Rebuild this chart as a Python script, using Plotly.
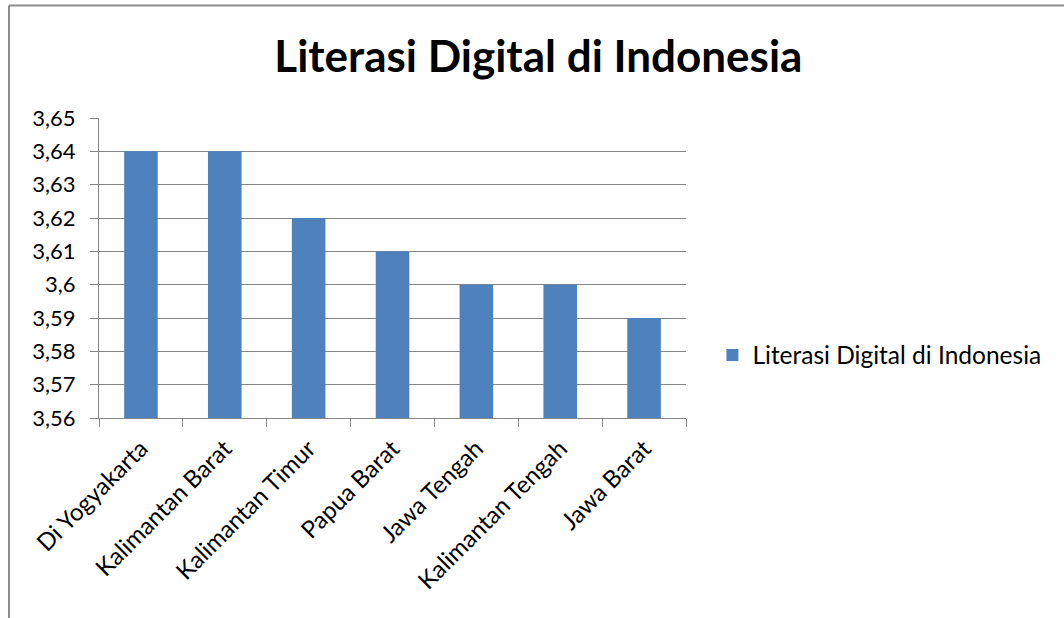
import plotly.graph_objects as go

categories = ["Di Yogyakarta", "Kalimantan Barat", "Kalimantan Timur", "Papua Barat",
              "Jawa Tengah", "Kalimantan Tengah", "Jawa Barat"]
values = [3.64, 3.64, 3.62, 3.61, 3.60, 3.60, 3.59]
series_name = "Literasi Digital di Indonesia"
y_tickvals = [3.56, 3.57, 3.58, 3.59, 3.60, 3.61, 3.62, 3.63, 3.64, 3.65]
y_ticktext = ["3,56", "3,57", "3,58", "3,59", "3,6", "3,61", "3,62", "3,63", "3,64", "3,65"]

FONT = "Lato"
GRAY = "#868686"

fig = go.Figure()
fig.add_trace(go.Bar(x=categories, y=values, name=series_name,
                     marker=dict(color="#4F81BD", line=dict(width=0)),
                     showlegend=True))

fig.update_layout(
    width=1064, height=618,
    margin=dict(l=99, r=378, t=118, b=200),
    paper_bgcolor="white", plot_bgcolor="white",
    font=dict(family=FONT, size=22, color="black"),
    title=dict(text="<b>Literasi Digital di Indonesia</b>", x=0.506, xanchor="center",
               y=0.908, yanchor="middle", font=dict(family=FONT, size=44, color="black")),
    bargap=0.6,
    showlegend=True,
    legend=dict(x=1.045, xanchor="left", y=0.21, yanchor="middle",
                font=dict(family=FONT, size=24.5), bgcolor="rgba(0,0,0,0)"),
    xaxis=dict(type="category", showline=True, linecolor=GRAY, linewidth=1,
               ticks="outside", ticklen=8, tickcolor=GRAY, tickson="boundaries",
               tickangle=-45, showgrid=False, tickfont=dict(family=FONT, size=24),
               ticklabelstandoff=6),
    yaxis=dict(range=[3.56, 3.65], tickvals=y_tickvals, ticktext=y_ticktext,
               showline=True, linecolor=GRAY, linewidth=1, ticks="outside", ticklen=8,
               tickcolor=GRAY, showgrid=True, gridcolor=GRAY, gridwidth=1,
               zeroline=False, tickfont=dict(family=FONT, size=22),
               ticklabelstandoff=10),
    shapes=[
        dict(type="line", xref="paper", yref="paper", x0=-0.1533, x1=-0.1533,
             y0=1.375, y1=-0.7, line=dict(color="#8c8c8c", width=2)),
        dict(type="line", xref="paper", yref="paper", x0=-0.1533, x1=1.7,
             y0=1.375, y1=1.375, line=dict(color="#8c8c8c", width=2)),
    ],
)

fig.write_html("out.html", config={"displayModeBar": False},
               post_script="document.body.style.margin='0px';")
